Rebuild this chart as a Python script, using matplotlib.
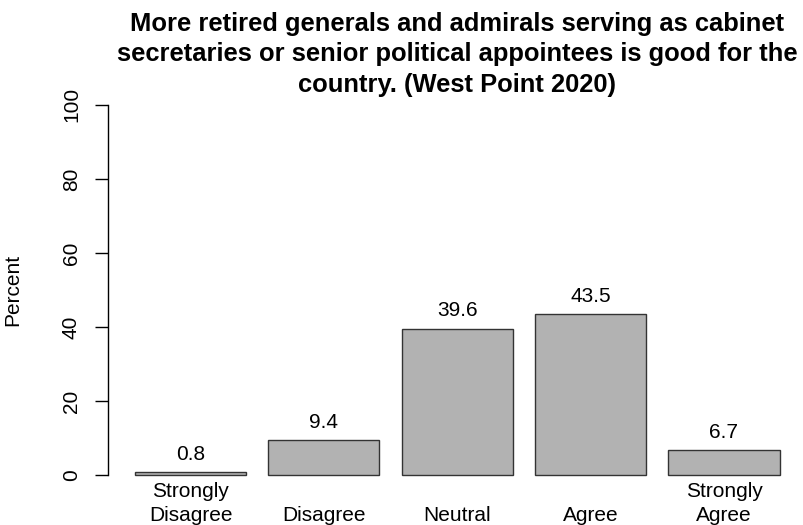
"""Bar chart of West Point 2020 survey responses."""

import matplotlib

matplotlib.use("Agg")

import matplotlib.pyplot as plt  # noqa: E402
import matplotlib.transforms as mtransforms  # noqa: E402

plt.rcParams["font.family"] = ["Liberation Sans", "DejaVu Sans"]

categories = ["Strongly\nDisagree", "Disagree", "Neutral", "Agree", "Strongly\nAgree"]
percents = [0.8, 9.4, 39.6, 43.5, 6.7]
y_ticks = [0, 20, 40, 60, 80, 100]
title = (
    "More retired generals and admirals serving as cabinet\n"
    "secretaries or senior political appointees is good for the\n"
    "country. (West Point 2020)"
)

W, H = 804, 525
fig = plt.figure(figsize=(W / 100, H / 100), dpi=100)

# plot region in pixels (R-style barplot: width 1, space 0.2)
left_px, right_px = 108, 804
top_px, bottom_px = 90, 490
ax = fig.add_axes([left_px / W, 1 - bottom_px / H,
                   (right_px - left_px) / W, (bottom_px - top_px) / H])

centers = [0.7 + 1.2 * i for i in range(len(percents))]
ax.bar(centers, percents, width=1.0, color="#b2b2b2", edgecolor="#333333", linewidth=1.0)

ax.set_xlim(-0.043, 6.22)
ax.set_ylim(-4, 104)

for x, v in zip(centers, percents):
    ax.annotate(f"{v:.1f}", (x, v), xytext=(0, 13), textcoords="offset points",
                ha="center", va="center", fontsize=15)

# category labels aligned on the bottom line
trans = mtransforms.blended_transform_factory(ax.transData, fig.transFigure)
for x, label in zip(centers, categories):
    ax.text(x, 1 - 521 / H, label, transform=trans, ha="center", va="baseline",
            fontsize=15, linespacing=1.35)

for side in ("top", "right", "bottom"):
    ax.spines[side].set_visible(False)
ax.spines["left"].set_bounds(0, 100)
ax.spines["left"].set_linewidth(1.0)
ax.set_xticks([])
ax.set_yticks(y_ticks)
ax.set_yticklabels([str(t) for t in y_ticks], rotation=90, va="center", fontsize=15)
ax.tick_params(axis="y", length=9.5, width=1.0, pad=10)

ax.set_ylabel("Percent", fontsize=15)
ax.yaxis.set_label_coords(22 / W, 0.5,
                          transform=mtransforms.blended_transform_factory(fig.transFigure, ax.transAxes))

fig.text(457 / W, 1 - 92 / H, title, ha="center", va="baseline",
         fontsize=18.4, fontweight="bold", linespacing=1.35)

fig.savefig("out.png", dpi=100)
plt.close(fig)
